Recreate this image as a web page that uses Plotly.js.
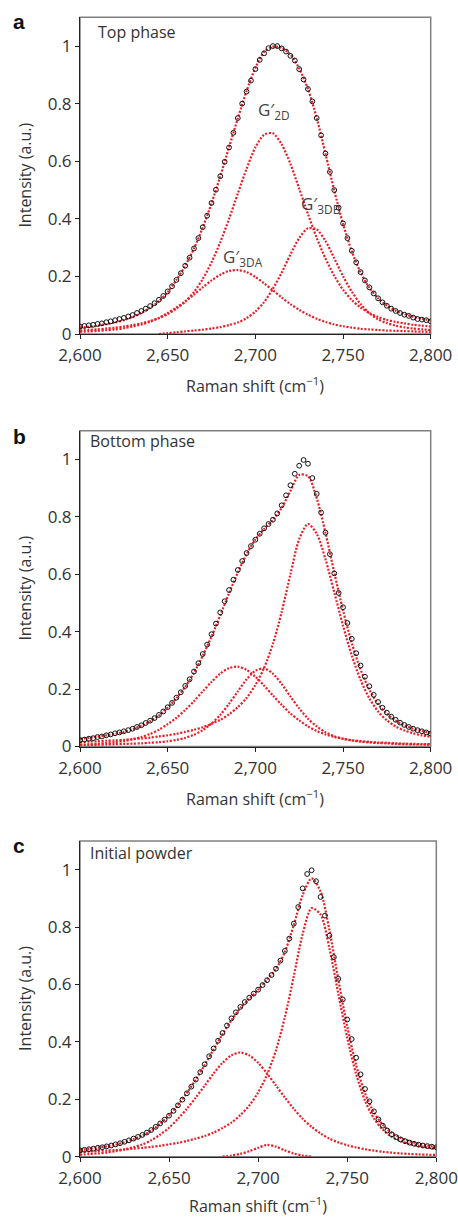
<!DOCTYPE html>
<html><head><meta charset="utf-8">
<script src="https://cdn.plot.ly/plotly-3.0.1.min.js"></script>
<style>html,body{margin:0;padding:0;background:#fff}#chart{width:458px;height:1218px}</style>
</head><body><div id="chart"></div>
<script>
// ---- shared axes ----
const fitShift = [2600,2605,2610,2615,2620,2625,2630,2635,2640,2645,2650,2655,2660,2665,2670,2675,2680,2685,2690,2695,2700,2705,2710,2715,2720,2725,2730,2735,2740,2745,2750,2755,2760,2765,2770,2775,2780,2785,2790,2795,2800];
const dataShift = [
 2600,2602.5,2605,2607.5,2610,2612.5,2615,2617.5,
 2620,2622.5,2625,2627.5,2630,2632.5,2635,2637.5,
 2640,2642.5,2645,2647.5,2650,2652.5,2655,2657.5,
 2660,2662.5,2665,2667.5,2670,2672.5,2675,2677.5,
 2680,2682.5,2685,2687.5,2690,2692.5,2695,2697.5,
 2700,2702.5,2705,2707.5,2710,2712.5,2715,2717.5,
 2720,2722.5,2725,2727.5,2730,2732.5,2735,2737.5,
 2740,2742.5,2745,2747.5,2750,2752.5,2755,2757.5,
 2760,2762.5,2765,2767.5,2770,2772.5,2775,2777.5,
 2780,2782.5,2785,2787.5,2790,2792.5,2795,2797.5,
 2800];
const xTickVals = [2600,2650,2700,2750,2800];
const xTickText = ['2,600','2,650','2,700','2,750','2,800'];
const yTickVals = [0,0.2,0.4,0.6,0.8,1];
const yTickText = ['0','0.2','0.4','0.6','0.8','1'];

// ---- panel a: Top phase ----
const topData = [
 .026,.028,.030,.032,.035,.037,.041,.044,
 .048,.052,.056,.061,.066,.073,.080,.088,
 .097,.107,.119,.132,.148,.166,.188,.211,
 .237,.265,.297,.333,.371,.411,.455,.501,
 .548,.598,.648,.699,.750,.800,.842,.880,
 .920,.952,.975,.993,1.0,1.0,.992,.981,
 .966,.950,.920,.884,.851,.808,.750,.690,
 .627,.563,.500,.439,.384,.333,.289,.249,
 .215,.186,.162,.141,.124,.110,.098,.088,
 .080,.073,.067,.063,.057,.052,.050,.048,
 .044];
const topSum  = [.022,.025,.029,.034,.040,.048,.059,.073,.091,.114,.145,.188,.237,.297,.370,.454,.548,.649,.749,.844,.924,.980,.998,.994,.971,.922,.851,.750,.626,.498,.383,.287,.214,.161,.124,.099,.081,.069,.060,.053,.047];
const topG2D  = [.012,.014,.016,.019,.022,.026,.031,.037,.045,.055,.069,.088,.112,.146,.191,.249,.319,.400,.488,.574,.648,.692,.697,.659,.591,.505,.417,.334,.262,.202,.154,.118,.092,.073,.059,.049,.042,.037,.032,.029,.026];
const topG3DA = [.008,.009,.011,.013,.016,.020,.026,.033,.043,.056,.073,.092,.113,.137,.162,.186,.206,.219,.222,.215,.198,.176,.152,.127,.104,.084,.067,.053,.042,.033,.027,.022,.018,.016,.014,.012,.011,.010,.009,.008,.007];
const topG3DB = [null,null,null,null,null,null,null,null,null,0,.003,.006,.009,.012,.015,.019,.024,.031,.040,.055,.078,.111,.157,.213,.276,.333,.367,.363,.323,.263,.201,.147,.104,.072,.051,.038,.029,.023,.019,.016,.014];

// ---- panel b: Bottom phase ----
const bottomData = [
 .022,.024,.027,.029,.033,.035,.039,.042,
 .046,.049,.053,.057,.062,.068,.074,.082,
 .090,.099,.110,.122,.137,.152,.170,.189,
 .211,.234,.261,.290,.322,.355,.391,.428,
 .467,.506,.545,.581,.615,.646,.674,.698,
 .720,.741,.760,.775,.790,.812,.840,.875,
 .910,.950,.978,.998,.985,.935,.880,.815,
 .745,.670,.603,.535,.485,.430,.375,.325,
 .282,.243,.210,.180,.155,.135,.118,.104,
 .093,.083,.075,.068,.062,.057,.053,.049,
 .045];
const bottomSum  = [.027,.030,.034,.039,.044,.051,.060,.072,.088,.108,.136,.168,.208,.257,.316,.383,.457,.534,.606,.670,.721,.758,.790,.831,.890,.946,.942,.865,.744,.606,.474,.360,.268,.198,.148,.114,.090,.074,.062,.054,.047];
const bottomG2D  = [.005,.006,.006,.007,.008,.009,.010,.011,.013,.015,.018,.023,.030,.041,.057,.080,.110,.149,.192,.234,.264,.272,.254,.218,.174,.133,.097,.070,.050,.036,.027,.021,.017,.014,.012,.011,.009,.008,.007,.007,.006];
const bottomG3DA = [.006,.0075,.0095,.012,.015,.019,.025,.033,.044,.058,.078,.100,.127,.158,.192,.225,.254,.273,.278,.267,.243,.212,.178,.145,.115,.091,.070,.054,.042,.033,.027,.022,.019,.016,.014,.013,.011,.010,.009,.0085,.008];
const bottomG3DB = [.015,.017,.018,.020,.021,.023,.026,.028,.031,.035,.039,.044,.051,.058,.067,.079,.093,.112,.137,.169,.214,.274,.357,.468,.600,.722,.775,.741,.652,.537,.421,.317,.232,.168,.122,.091,.070,.056,.046,.039,.034];

// ---- panel c: Initial powder ----
const powderData = [
 .022,.024,.026,.028,.031,.033,.036,.039,
 .043,.047,.052,.057,.063,.069,.076,.084,
 .093,.104,.116,.129,.143,.160,.179,.199,
 .221,.244,.269,.295,.322,.350,.377,.404,
 .431,.457,.482,.503,.522,.539,.554,.568,
 .582,.598,.615,.633,.655,.683,.717,.760,
 .812,.870,.935,.985,.998,.960,.905,.840,
 .770,.695,.620,.548,.478,.410,.345,.287,
 .236,.193,.158,.130,.108,.091,.078,.068,
 .060,.054,.049,.045,.042,.039,.037,.035,
 .033];
const powderSum  = [.024,.027,.0315,.036,.042,.0505,.061,.074,.091,.115,.144,.180,.222,.269,.320,.374,.427,.476,.518,.550,.582,.617,.654,.714,.807,.912,.970,.925,.789,.617,.454,.320,.221,.154,.111,.083,.066,.054,.045,.039,.033];
const powderG2D  = [null,null,null,null,null,null,null,null,null,null,null,null,null,null,null,null,0,.004,.010,.019,.031,.041,.035,.022,.011,.004,0,null,null,null,null,null,null,null,null,null,null,null,null,null,null];
const powderG3DA = [.007,.009,.0115,.0145,.019,.025,.033,.043,.057,.077,.101,.132,.167,.206,.248,.290,.327,.353,.363,.353,.327,.290,.248,.206,.167,.132,.104,.081,.063,.050,.040,.032,.026,.021,.017,.014,.0115,.0095,.008,.007,.006];
const powderG3DB = [.017,.018,.020,.0215,.023,.0255,.028,.031,.034,.038,.043,.048,.055,.063,.072,.084,.100,.119,.145,.178,.224,.286,.371,.486,.629,.776,.866,.844,.726,.567,.414,.288,.195,.133,.094,.069,.054,.044,.037,.032,.027];

// ---- styling ----
const RED = '#ec1c24';
const TXT = '#333';
const FONT = 'Open Sans, Noto Sans, sans-serif';

function fitTrace(y, n) {
  return {x: fitShift, y: y, xaxis: 'x' + n, yaxis: 'y' + n, type: 'scatter', mode: 'lines',
    line: {color: RED, width: 2.2, dash: '2px,1.6px', shape: 'spline', smoothing: 0.8},
    connectgaps: false, hoverinfo: 'skip', showlegend: false};
}
function dataTrace(y, n) {
  return {x: dataShift, y: y, xaxis: 'x' + n, yaxis: 'y' + n, type: 'scatter', mode: 'markers',
    marker: {symbol: 'circle-open', size: 4.8, color: '#111', line: {width: 1, color: '#111'}},
    hoverinfo: 'skip', showlegend: false};
}

const panels = [
  {n: '', comps: [topG3DA, topG2D, topG3DB], sum: topSum, data: topData},
  {n: '2', comps: [bottomG3DA, bottomG2D, bottomG3DB], sum: bottomSum, data: bottomData},
  {n: '3', comps: [powderG3DA, powderG2D, powderG3DB], sum: powderSum, data: powderData}
];
const traces = [];
panels.forEach(p => {
  p.comps.forEach(c => traces.push(fitTrace(c, p.n)));
  traces.push(fitTrace(p.sum, p.n));
  traces.push(dataTrace(p.data, p.n));
});

const W = 458, H = 1218;
const L = 80 / W;
function px(x) { return x / W; }
function py(y) { return 1 - y / H; }

function xAxis(right, anchor) {
  return {domain: [L, right], range: [2600, 2800], anchor: anchor,
    tickmode: 'array', tickvals: xTickVals, ticktext: xTickText,
    ticks: 'outside', ticklen: 4, tickwidth: 1, tickcolor: '#222', ticklabelstandoff: 2,
    showline: true, linecolor: '#222', linewidth: 1, showgrid: false, zeroline: false,
    tickfont: {family: FONT, size: 17, color: TXT}, fixedrange: true};
}
function yAxis(top, bottom, anchor) {
  return {domain: [py(bottom), py(top)], range: [0, 1.1], anchor: anchor,
    tickmode: 'array', tickvals: yTickVals, ticktext: yTickText,
    ticks: 'outside', ticklen: 4, tickwidth: 1, tickcolor: '#222',
    showline: true, linecolor: '#222', linewidth: 1, showgrid: false, zeroline: false,
    tickfont: {family: FONT, size: 17, color: TXT}, fixedrange: true};
}

const frames = [['x', 'y'], ['x2', 'y2'], ['x3', 'y3']].map(r => ({
  type: 'rect', xref: r[0] + ' domain', yref: r[1] + ' domain', x0: 0, x1: 1, y0: 0, y1: 1,
  line: {color: '#808080', width: 1.5}, layer: 'below'}));

function ann(text, x, y, opts) {
  return Object.assign({text: text, xref: 'paper', yref: 'paper', x: px(x), y: py(y),
    showarrow: false, xanchor: 'left', yanchor: 'middle',
    font: {family: FONT, size: 16, color: TXT}}, opts || {});
}
const letterFont = {family: 'Liberation Sans, Arial, sans-serif', size: 21, color: '#111'};
const annotations = [
  ann('<b>a</b>', 19, 21, {xanchor: 'center', font: letterFont}),
  ann('<b>b</b>', 19, 436, {xanchor: 'center', font: letterFont}),
  ann('<b>c</b>', 19, 845, {xanchor: 'center', font: letterFont}),
  ann('Top phase', 96, 32),
  ann('Bottom phase', 88, 441),
  ann('Initial powder', 88, 853),
  ann('G′<sub>2D</sub>', 256, 110, {font: {family: FONT, size: 17, color: '#444'}}),
  ann('G′<sub>3DB</sub>', 299, 205, {font: {family: FONT, size: 17, color: '#444'}}),
  ann('G′<sub>3DA</sub>', 221, 258, {font: {family: FONT, size: 17, color: '#444'}}),
  ann('Intensity (a.u.)', 25, 175.6, {xanchor: 'center', textangle: -90}),
  ann('Intensity (a.u.)', 25, 588.6, {xanchor: 'center', textangle: -90}),
  ann('Intensity (a.u.)', 25, 998.9, {xanchor: 'center', textangle: -90}),
  ann('Raman shift (cm<sup>−1</sup>)', 255.4, 385, {xanchor: 'center'}),
  ann('Raman shift (cm<sup>−1</sup>)', 255.4, 797.5, {xanchor: 'center'}),
  ann('Raman shift (cm<sup>−1</sup>)', 258.2, 1205, {xanchor: 'center'})
];

const layout = {
  width: W, height: H, margin: {l: 0, r: 0, t: 0, b: 0},
  paper_bgcolor: '#fff', plot_bgcolor: '#fff', showlegend: false,
  xaxis: xAxis(430.7 / W, 'y'), yaxis: yAxis(17.3, 334, 'x'),
  xaxis2: xAxis(430.7 / W, 'y2'), yaxis2: yAxis(430.7, 746.5, 'x2'),
  xaxis3: xAxis(436.3 / W, 'y3'), yaxis3: yAxis(841, 1156.7, 'x3'),
  shapes: frames, annotations: annotations
};
Plotly.newPlot('chart', traces, layout, {staticPlot: true, displayModeBar: false});
</script></body></html>
